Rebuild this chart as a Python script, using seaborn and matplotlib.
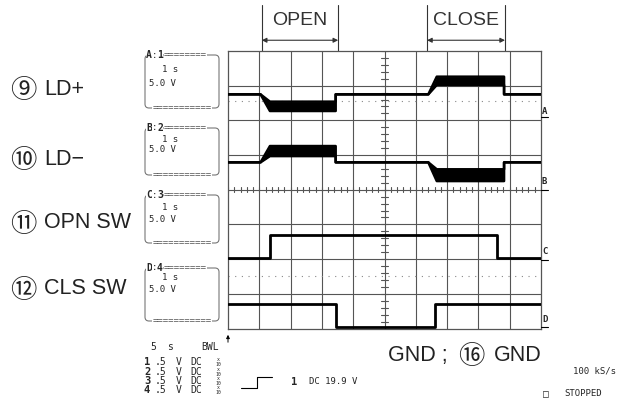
import numpy as np
import pandas as pd
import matplotlib
matplotlib.use("Agg")
import matplotlib.pyplot as plt
from matplotlib.patches import FancyBboxPatch
import seaborn as sns

# -------------------------------
# Data (time in s, level in screen divisions)
# -------------------------------
ld_plus_t = [0, 1.04, 1.34, 3.44, 3.44, 6.40, 6.67, 8.82, 8.82, 10]
ld_plus_lo = [2.75, 2.75, 2.27, 2.27, 2.75, 2.75, 3.02, 3.02, 2.75, 2.75]
ld_plus_hi = [2.75, 2.75, 2.54, 2.54, 2.75, 2.75, 3.26, 3.26, 2.75, 2.75]

ld_minus_t = [0, 1.04, 1.34, 3.44, 3.44, 6.40, 6.67, 8.82, 8.82, 10]
ld_minus_lo = [0.79, 0.79, 0.97, 0.97, 0.79, 0.79, 0.25, 0.25, 0.79, 0.79]
ld_minus_hi = [0.79, 0.79, 1.26, 1.26, 0.79, 0.79, 0.59, 0.59, 0.79, 0.79]

opn_sw_t = [0, 1.34, 1.34, 8.58, 8.58, 10]
opn_sw_v = [-1.97, -1.97, -1.30, -1.30, -1.97, -1.97]

cls_sw_t = [0, 3.44, 3.44, 6.61, 6.61, 10]
cls_sw_v = [-3.28, -3.28, -3.95, -3.95, -3.28, -3.28]

ground_levels = [2.55, -2.50]

open_span = [1.08, 3.52]
close_span = [6.36, 8.85]

channel_circles = ["⑨", "⑩", "⑪", "⑫"]
channel_names = ["LD+", "LD−", "OPN SW", "CLS SW"]
box_headers = ["A:1", "B:2", "C:3", "D:4"]
box_time = "1 s"
box_volt = "5.0 V"
marker_names = ["A", "B", "C", "D"]
input_rows = ["1", "2", "3", "4"]

# -------------------------------
# Figure
# -------------------------------
sns.set_style("white")
label_fonts = ['Liberation Sans', 'Noto Sans CJK JP', 'DejaVu Sans']
plt.rcParams['font.family'] = label_fonts

fig = plt.figure(figsize=(6.25, 4.09), dpi=100)
W, H = 625, 409
gl, gr, gt, gb = 228, 541, 51, 328.5
ax = fig.add_axes([gl / W, (H - gb) / H, (gr - gl) / W, (gb - gt) / H])
ax.set_xlim(0, 10)
ax.set_ylim(-4, 4)
ax.set_xticks([])
ax.set_yticks([])
for s in ax.spines.values():
    s.set_color("#555555")
    s.set_linewidth(0.9)

grid_c = "#555555"
for x in range(1, 10):
    ax.axvline(x, color=grid_c, lw=0.8, zorder=1)
for y in range(-3, 4):
    ax.axhline(y, color=grid_c, lw=0.8, zorder=1)

# minor ticks on center axes
for y in np.arange(-4, 4.01, 0.2):
    ax.plot([4.9, 5.1], [y, y], color=grid_c, lw=0.8, zorder=1)
for x in np.arange(0, 10.01, 0.2):
    ax.plot([x, x], [-0.07, 0.07], color=grid_c, lw=0.8, zorder=1)

for g in ground_levels:
    ax.axhline(g, color="#888888", lw=0.8, ls=(0, (1, 5)), zorder=1)

# traces
for t, lo, hi in [(ld_plus_t, ld_plus_lo, ld_plus_hi),
                  (ld_minus_t, ld_minus_lo, ld_minus_hi)]:
    ax.fill_between(t, lo, hi, color="black", lw=0, zorder=3)
    sns.lineplot(x=t, y=lo, ax=ax, color="black", lw=1.8, sort=False,
                 estimator=None, zorder=4)
    sns.lineplot(x=t, y=hi, ax=ax, color="black", lw=1.8, sort=False,
                 estimator=None, zorder=4)

for t, v in [(opn_sw_t, opn_sw_v), (cls_sw_t, cls_sw_v)]:
    sns.lineplot(x=t, y=v, ax=ax, color="black", lw=2.0, sort=False,
                 estimator=None, zorder=4)

# OPEN / CLOSE brackets
for (a, b), name in [(open_span, "OPEN"), (close_span, "CLOSE")]:
    for x in (a, b):
        ax.plot([x, x], [4, 5.32], color="#333333", lw=0.8, clip_on=False)
    ax.annotate("", xy=(a, 4.31), xytext=(b, 4.31), annotation_clip=False,
                arrowprops=dict(arrowstyle="<|-|>", color="#333333", lw=0.8,
                                mutation_scale=7, shrinkA=0, shrinkB=0))
    ax.text((a + b) / 2, 4.88, name, ha="center", va="center", fontsize=14,
            color="#333333", clip_on=False)

# -------------------------------
# Overlay (pixel coordinates) for the scope readouts
# -------------------------------
ov = fig.add_axes([0, 0, 1, 1], facecolor="none")
ov.set_xlim(0, W)
ov.set_ylim(H, 0)
ov.axis("off")

mono = "DejaVu Sans Mono"
label_y = [87, 157, 220, 286]
for circ, name, y in zip(channel_circles, channel_names, label_y):
    ov.text(23.5, y + 2, circ, ha="center", va="center_baseline", fontsize=19,
            color="#222222", family=label_fonts)
    ov.text(44, y, name, ha="left", va="center_baseline", fontsize=15.5,
            color="#222222", family=label_fonts)

box_top = [55, 128, 195, 268]
box_bot = [108, 175, 243, 321]
line1 = [69, 139, 207, 278]
line2 = [83, 150, 220, 290]
for hdr, t0, b0, y1, y2 in zip(box_headers, box_top, box_bot, line1, line2):
    ov.add_patch(FancyBboxPatch((145, t0), 74, b0 - t0,
                                boxstyle="round,pad=0,rounding_size=4",
                                fill=False, ec="#777777", lw=0.8))
    ov.text(146, t0, hdr[0], ha="left", va="center", fontsize=7,
            family=mono, weight="bold",
            bbox=dict(fc="white", ec="none", pad=0.3))
    ov.text(152, t0, ":", ha="left", va="center", fontsize=6.5, family=mono,
            bbox=dict(fc="white", ec="none", pad=0.3))
    ov.text(157, t0, hdr[2], ha="left", va="center", fontsize=7,
            family=mono, weight="bold",
            bbox=dict(fc="white", ec="none", pad=0.3))
    ov.text(164, t0, "========", ha="left", va="center",
            fontsize=6.5, family=mono, color="#555555",
            bbox=dict(fc="white", ec="none", pad=0.3))
    ov.text(182, b0, "===========", ha="center", va="center", fontsize=6.5,
            family=mono, color="#555555",
            bbox=dict(fc="white", ec="none", pad=0.3))
    ov.text(162, y1, box_time, ha="left", va="center", fontsize=6.5, family=mono)
    ov.text(149, y2, box_volt, ha="left", va="center", fontsize=6.5, family=mono)

# channel markers at right edge
mk_y = [111.7, 181.7, 251.7, 319.3]
mk_u = [117, 190, 260, 327]
for name, y, u in zip(marker_names, mk_y, mk_u):
    ov.text(542, y, name, ha="left", va="center", fontsize=6.5, family=mono,
            weight="bold")
    ov.plot([541, 548], [u, u], color="black", lw=0.8)

# bottom readouts
ov.text(150, 347, "5", ha="left", va="center", fontsize=7, family=mono)
ov.text(167, 347, "s", ha="left", va="center", fontsize=7, family=mono)
ov.text(201, 347, "BWL", ha="left", va="center", fontsize=7, family=mono)
ov.annotate("", xy=(228, 332), xytext=(228, 345),
            arrowprops=dict(arrowstyle="-|>", color="black", lw=0.7,
                            mutation_scale=5))
row_y = [362, 372, 381, 390]
for r, y in zip(input_rows, row_y):
    ov.text(144, y, r, ha="left", va="center", fontsize=7.5, family=mono,
            weight="bold")
    ov.text(155, y, ".5", ha="left", va="center", fontsize=7, family=mono)
    ov.text(176, y, "V", ha="left", va="center", fontsize=7, family=mono)
    ov.text(190, y, "DC", ha="left", va="center", fontsize=7, family=mono)
    ov.text(218, y - 2.5, "x", ha="center", va="center", fontsize=3.5, family=mono)
    ov.text(218, y + 2.5, "10", ha="center", va="center", fontsize=3.5, family=mono)

ov.plot([241, 257, 257, 272], [388, 388, 377, 377], color="black", lw=0.8)
ov.text(291, 382, "1", ha="left", va="center", fontsize=7.5, family=mono,
        weight="bold")
ov.text(309, 382, "DC 19.9 V", ha="left", va="center", fontsize=6.5, family=mono)

ov.text(388, 353, "GND ;", ha="left", va="center_baseline", fontsize=15.5,
        color="#222222", family=label_fonts)
ov.text(471, 355, "⑯", ha="center", va="center_baseline", fontsize=19,
        color="#222222", family=label_fonts)
ov.text(542, 353, "GND", ha="right", va="center_baseline", fontsize=15.5,
        color="#222222", family=label_fonts)
ov.text(573, 371, "100 kS/s", ha="left", va="center", fontsize=6.5, family=mono)
ov.text(543, 394, "□", ha="left", va="center", fontsize=7, family=mono)
ov.text(564, 394, "STOPPED", ha="left", va="center", fontsize=6.5, family=mono)

fig.savefig("out.png", dpi=100)
plt.close(fig)
